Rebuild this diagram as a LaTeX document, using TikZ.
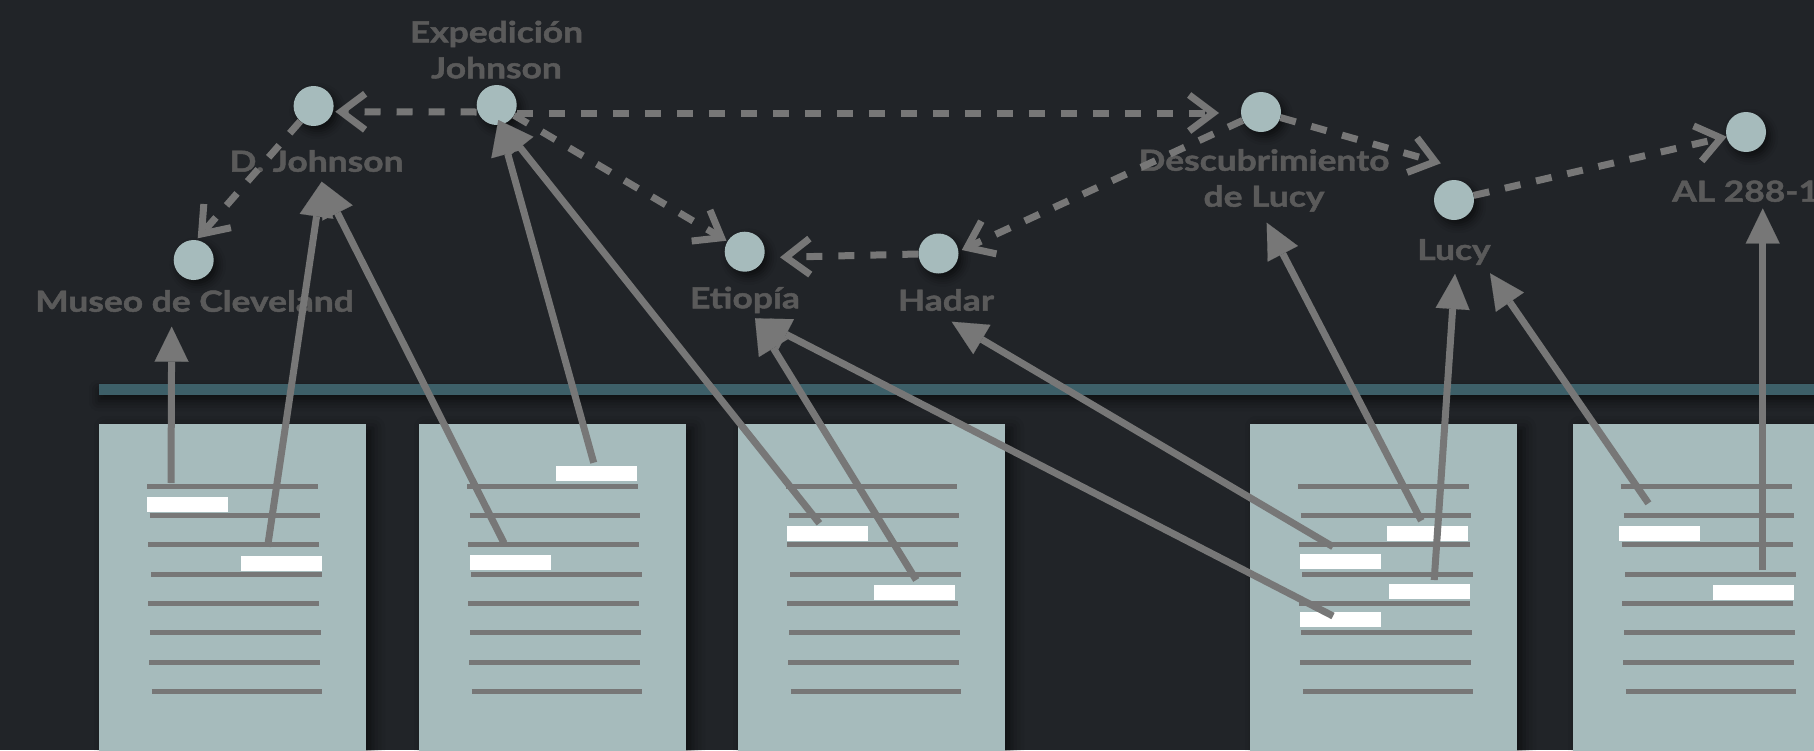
\documentclass[tikz,border=0pt]{standalone}
\usepackage{fontspec}
\newfontfamily\labfont{Lato}[FakeStretch=1.22, BoldFeatures={FakeBold=1.6}]
\usetikzlibrary{arrows.meta,shadows.blur}
\definecolor{bgc}{HTML}{212428}
\definecolor{arrc}{HTML}{777777}
\definecolor{paleteal}{HTML}{A6BBBC}
\definecolor{barc}{HTML}{3D5F68}
\definecolor{labc}{HTML}{5A5A5A}
\tikzset{
  lab/.style={font=\labfont\bfseries\fontsize{29}{36}\selectfont, text=labc, inner sep=0pt, align=center, anchor=base},
  dotnode/.style={circle, fill=paleteal, minimum size=40pt, inner sep=0pt,
    blur shadow={shadow xshift=4pt, shadow yshift=-5pt, shadow blur radius=8pt, shadow opacity=60}},
  conn/.style={draw=arrc, line width=7pt, -{Triangle[length=35pt,width=34pt,line width=0.1pt]}},
  dconn/.style={draw=arrc, line width=7pt, dash pattern=on 16pt off 16pt, -{Straight Barb[length=24pt,width=36pt,sharp]}},
  docpage/.style={fill=paleteal, blur shadow={shadow xshift=7pt, shadow yshift=-4pt, shadow blur radius=12pt, shadow opacity=55}},
  dline/.style={draw=arrc, line width=5pt},
  hlbox/.style={fill=white}
}
\begin{document}
\begin{tikzpicture}[x=1pt,y=-1pt]
\useasboundingbox (0,0) rectangle (1814,750);
\fill[bgc] (0,0) rectangle (1814,750);
% timeline bar
\fill[barc, blur shadow={shadow xshift=0pt, shadow yshift=-6pt, shadow blur radius=10pt, shadow opacity=60}] (99,384) rectangle (1830,395);
% documents
\foreach \l in {99,419,738,1250,1573}{
  \fill[docpage] (\l,424) rectangle ++(267,345);
  \foreach \k/\o in {0/0,1/2.7,2/1.2,3/3.9,4/0.8,5/3.2,6/1.9,7/4.6}{
    \draw[dline] ({\l+48.2+\o},{486.3+29.3*\k}) -- ++(170.5,0);
  }
}
\foreach \x/\y in {147/497,241/556,555.7/466,470/555,787/526,874/585,1387/526,1300/554,1389/584,1300/612,1619/526,1713/585}{
  \fill[hlbox] (\x,\y) rectangle ++(81,15);
}
% labels (base = baseline of the last line)
\node[lab] (lexp) at (496.5,78.3) {Expedición\\Johnson};
\node[lab] (ldj) at (316.5,171.7) {D. Johnson};
\node[lab] (lmus) at (194.5,311.7) {Museo de Cleveland};
\node[lab] (leti) at (745,308.3) {Etiopía};
\node[lab] (lhad) at (946,310.7) {Hadar};
\node[lab] (ldesc) at (1264,206.7) {Descubrimiento\\de Lucy};
\node[lab] (llucy) at (1454,260) {Lucy};
\node[lab, anchor=base west] (lal) at (1672,201.7) {AL 288-1};
% circles
\node[dotnode] (mus) at (193.7,260) {};
\node[dotnode] (dj) at (313.6,106) {};
\node[dotnode] (exp) at (496.7,105) {};
\node[dotnode] (eti) at (744.7,251.7) {};
\node[dotnode] (had) at (938.5,253.5) {};
\node[dotnode] (desc) at (1261,112) {};
\node[dotnode] (lucy) at (1454,200) {};
\node[dotnode] (al) at (1746,132) {};
% dashed arrow tips
\coordinate (q1) at (335.3,111.7);
\coordinate (q2) at (1219,113);
\coordinate (q3) at (726.5,240.7);
\coordinate (q4) at (197.7,238.3);
\coordinate (q5) at (780,257.3);
\coordinate (q6) at (961.8,250);
\coordinate (q7) at (1440.8,163.3);
\coordinate (q8) at (1726.7,136.7);
\draw[dconn] ([yshift=-7pt]exp.west) -- (q1);
\draw[dconn] ([yshift=-8pt]exp.east) -- (q2);
\draw[dconn] (exp) -- (q3);
\draw[dconn] (dj) -- (q4);
\draw[dconn] (had) -- (q5);
\draw[dconn] (desc) -- (q6);
\draw[dconn] (desc) -- (q7);
\draw[dconn] (lucy) -- (q8);
% solid arrows: tails in documents, tips under labels
\coordinate (t1) at (171,483);
\coordinate (t2) at (267.6,546.7);
\coordinate (t3) at (504,543);
\coordinate (t4) at (593.7,462.7);
\coordinate (t5) at (819.4,523.3);
\coordinate (t6) at (916.2,580);
\coordinate (t7) at (1333,616);
\coordinate (t8) at (1333,546.7);
\coordinate (t9) at (1421.3,520.7);
\coordinate (t10) at (1434.2,580);
\coordinate (t11) at (1648.4,503.3);
\coordinate (t12) at (1762.7,570);
\coordinate (p1) at (171.7,326.7);
\coordinate (p2) at (321.7,181.7);
\coordinate (p4) at (498.3,120);
\coordinate (p6) at (755,318.3);
\coordinate (p8) at (951.7,321.7);
\coordinate (p9) at (1266.7,222.7);
\coordinate (p10) at (1455,274);
\coordinate (p11) at (1490,273.3);
\coordinate (p12) at (1762.7,208.5);
\draw[conn] (t1) -- (p1);
\draw[conn] (t2) -- (p2);
\draw[conn] (t3) -- (p2);
\draw[conn] (t4) -- (p4);
\draw[conn] (t5) -- (p4);
\draw[conn] (t6) -- (p6);
\draw[conn] (t7) -- (p6);
\draw[conn] (t8) -- (p8);
\draw[conn] (t9) -- (p9);
\draw[conn] (t10) -- (p10);
\draw[conn] (t11) -- (p11);
\draw[conn] (t12) -- (p12);
\end{tikzpicture}
\end{document}
